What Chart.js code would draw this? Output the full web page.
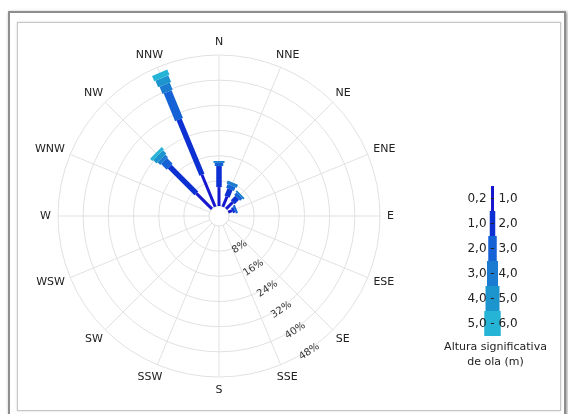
<!DOCTYPE html>
<html>
<head>
<meta charset="utf-8">
<script src="https://cdn.jsdelivr.net/npm/chart.js@4.4.0/dist/chart.umd.min.js"></script>
<style>
  html, body { margin: 0; padding: 0; background: #fff; }
  body { width: 568px; height: 414px; position: relative; overflow: hidden; }
  #frame { position: absolute; left: 8px; top: 11px; width: 554px; height: 410px; border: 2px solid #8e8e8e; box-shadow: 1px 1px 3px rgba(0,0,0,.45); }
  #panel { position: absolute; left: 17px; top: 22px; width: 542px; height: 387px; border: 1px solid #c6c6c6; box-shadow: 0 0 2px rgba(0,0,0,.18); }
  #wrap { position: absolute; left: 0; top: 0; width: 568px; height: 414px; }
</style>
</head>
<body>
<div id="frame"></div>
<div id="panel"></div>
<div id="wrap"><canvas id="rosa" width="568" height="414"></canvas></div>
<script>
const directions = ['N','NNE','NE','ENE','E','ESE','SE','SSE','S','SSW','SW','WSW','W','WNW','NW','NNW'];
const heightBins = ['0,2 - 1,0','1,0 - 2,0','2,0 - 3,0','3,0 - 4,0','4,0 - 5,0','5,0 - 6,0'];

// frecuencia (%) por dirección para cada rango de altura de ola
const ola02_10 = [6.0, 3.5, 3.0, 1.3, 0, 0, 0, 0, 0, 0, 0, 0, 0, 0, 7.0, 11.0];
const ola10_20 = [6.7, 2.5, 2.0, 0.8, 0, 0, 0, 0, 0, 0, 0, 0, 0, 0, 12.0, 19.0];
const ola20_30 = [1.0, 1.3, 1.0, 0.7, 0, 0, 0, 0, 0, 0, 0, 0, 0, 0, 2.5, 9.5];
const ola30_40 = [0.6, 1.0, 0.6, 0, 0, 0, 0, 0, 0, 0, 0, 0, 0, 0, 1.2, 2.5];
const ola40_50 = [0, 0, 0, 0, 0, 0, 0, 0, 0, 0, 0, 0, 0, 0, 1.5, 2.3];
const ola50_60 = [0, 0, 0, 0, 0, 0, 0, 0, 0, 0, 0, 0, 0, 0, 1.0, 1.8];

const tickValues = [8, 16, 24, 32, 40, 48];

const bandColors = ['#1717d0', '#0d30d2', '#1562d6', '#1a7bd0', '#1c95cf', '#26b4d6'];
const bandWidths = [3, 5.5, 8.5, 11, 14, 16.5];
const gridColor = '#e1e1e1';
const FONT = '"DejaVu Sans", sans-serif';

// barras apiladas, etiquetas y leyenda
const rosePlugin = {
  id: 'rosePlugin',
  beforeDatasetsDraw(chart) {
    const s = chart.scales.r, ctx = chart.ctx;
    const r0 = s.getDistanceFromCenterForValue(0);
    ctx.save();
    ctx.beginPath();
    ctx.arc(s.xCenter, s.yCenter, r0, 0, Math.PI * 2);
    ctx.fillStyle = '#fff';
    ctx.fill();
    ctx.strokeStyle = gridColor;
    ctx.lineWidth = 1;
    ctx.stroke();
    ctx.restore();
  },
  afterDatasetsDraw(chart) {
    const s = chart.scales.r, ctx = chart.ctx;
    const sets = chart.data.datasets;
    directions.forEach((d, i) => {
      const a = s.getIndexAngle(i) - Math.PI / 2;
      let base = 0;
      sets.forEach((ds, k) => {
        const v = ds.data[i];
        if (!v) return;
        const ra = s.getDistanceFromCenterForValue(base);
        const rb = s.getDistanceFromCenterForValue(base + v);
        base += v;
        ctx.save();
        ctx.translate(s.xCenter, s.yCenter);
        ctx.rotate(a);
        ctx.fillStyle = ds.backgroundColor;
        ctx.fillRect(ra, -bandWidths[k] / 2, rb - ra, bandWidths[k]);
        ctx.restore();
      });
    });
  },
  afterDraw(chart) {
    const s = chart.scales.r, ctx = chart.ctx;
    const outer = s.getDistanceFromCenterForValue(s.max);
    ctx.save();
    ctx.textAlign = 'center';
    ctx.textBaseline = 'middle';

    // rumbos
    ctx.font = '11px ' + FONT;
    ctx.fillStyle = '#222';
    directions.forEach((d, i) => {
      const ang = s.getIndexAngle(i);
      const w = ctx.measureText(d).width;
      const p = s.getPointPosition(i, outer + 7);
      ctx.fillText(d, p.x + Math.sin(ang) * w / 2, p.y - Math.cos(ang) * 6);
    });

    // porcentajes
    ctx.font = '10px ' + FONT;
    ctx.fillStyle = '#333';
    const tickAng = 146.4 * Math.PI / 180;
    tickValues.forEach(v => {
      const r = s.getDistanceFromCenterForValue(v) + 2;
      ctx.save();
      ctx.translate(s.xCenter + r * Math.sin(tickAng), s.yCenter - r * Math.cos(tickAng));
      ctx.rotate(tickAng - Math.PI);
      ctx.fillText(v + '%', 0, 0);
      ctx.restore();
    });

    // leyenda
    const lx = 492.5;
    let ly = 186;
    heightBins.forEach((lab, k) => {
      ctx.fillStyle = bandColors[k];
      ctx.fillRect(lx - bandWidths[k] / 2, ly, bandWidths[k], 25);
      ly += 25;
    });
    ly = 186;
    ctx.font = '12px ' + FONT;
    ctx.fillStyle = '#222';
    heightBins.forEach(lab => {
      ctx.fillText(lab, lx, ly + 13);
      ly += 25;
    });
    ctx.font = '11px ' + FONT;
    ctx.fillText('Altura significativa', 495.5, 347.5);
    ctx.fillText('de ola (m)', 495.5, 362.5);
    ctx.restore();
  }
};

const series = [ola02_10, ola10_20, ola20_30, ola30_40, ola40_50, ola50_60];

new Chart(document.getElementById('rosa'), {
  type: 'radar',
  data: {
    labels: directions,
    datasets: series.map((d, k) => ({
      label: heightBins[k],
      data: d,
      backgroundColor: bandColors[k],
      borderColor: bandColors[k],
      borderWidth: 0,
      fill: false,
      showLine: false,
      pointRadius: 0,
      pointHoverRadius: 0
    }))
  },
  options: {
    responsive: false,
    animation: false,
    events: [],
    layout: { padding: { left: 58, top: 55, right: 188, bottom: 37 } },
    plugins: { legend: { display: false }, tooltip: { enabled: false } },
    scales: {
      r: {
        min: -3.18,  // deja el hueco central
        max: 48,
        startAngle: 0,
        ticks: { display: false, stepSize: 8 },
        grid: { circular: true, color: gridColor, lineWidth: 1 },
        angleLines: { display: true, color: gridColor, lineWidth: 1 },
        pointLabels: { display: false }
      }
    }
  },
  plugins: [rosePlugin]
});
</script>
</body>
</html>
